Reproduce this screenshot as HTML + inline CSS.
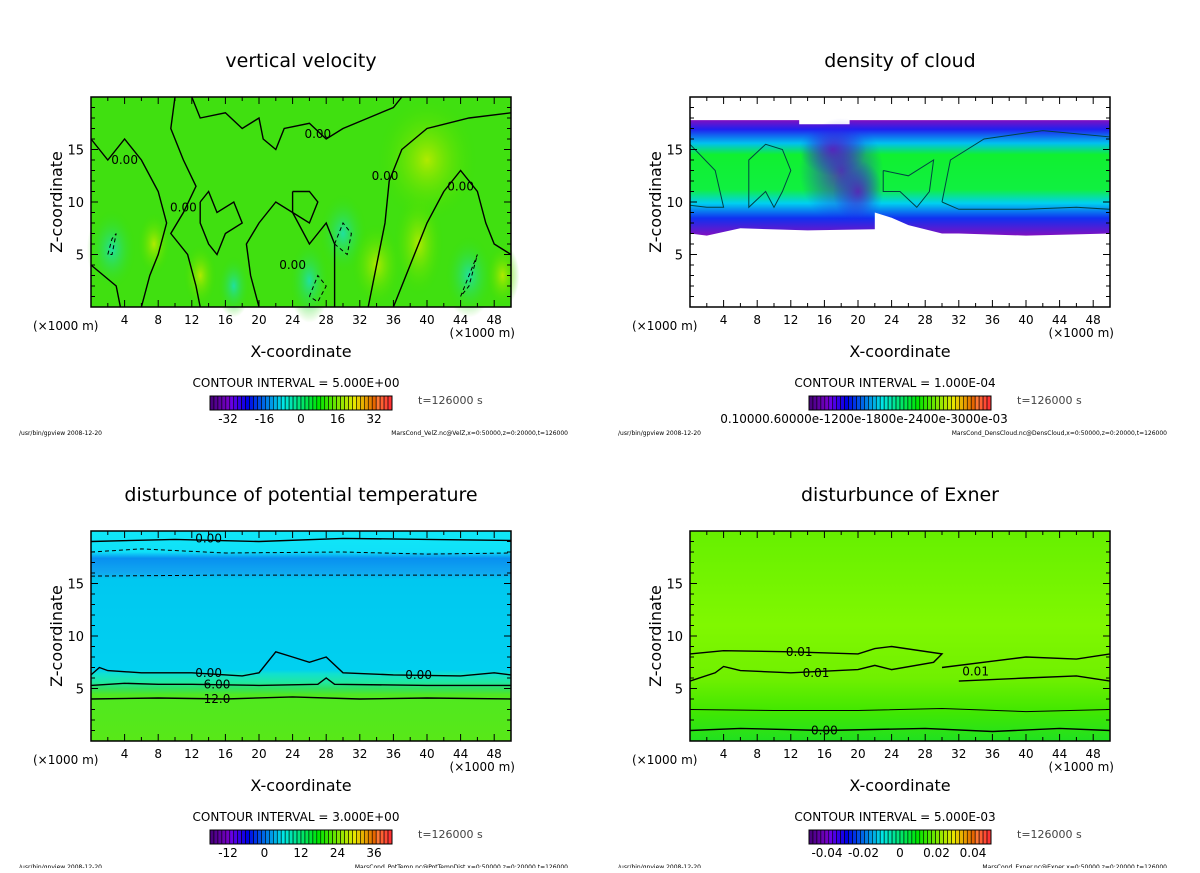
<!DOCTYPE html>
<html><head><meta charset="utf-8"><style>
body{margin:0;background:#fff;width:1200px;height:868px;overflow:hidden;font-family:"Liberation Sans",sans-serif}
svg text{font-family:"DejaVu Sans","Liberation Sans",sans-serif}
</style></head><body>
<svg id="fig" width="1200" height="868" viewBox="0 0 1200 868" xmlns="http://www.w3.org/2000/svg">
<defs>
<radialGradient id="cy" cx="50%" cy="50%" r="50%"><stop offset="0" stop-color="#20e0a0"/><stop offset="1" stop-color="#3ce000" stop-opacity="0"/></radialGradient>
<radialGradient id="yg" cx="50%" cy="50%" r="50%"><stop offset="0" stop-color="#b0ea00"/><stop offset="1" stop-color="#3ce000" stop-opacity="0"/></radialGradient>
<radialGradient id="pu" cx="50%" cy="50%" r="50%"><stop offset="0" stop-color="#6010c0" stop-opacity="0.8"/><stop offset="1" stop-color="#2020f0" stop-opacity="0"/></radialGradient>
<linearGradient id="cloud" x1="0" y1="0" x2="0" y2="1">
<stop offset="0" stop-color="#8010c0"/><stop offset="0.08" stop-color="#2020f0"/><stop offset="0.2" stop-color="#00c0f0"/><stop offset="0.3" stop-color="#10f030"/><stop offset="0.6" stop-color="#10f040"/><stop offset="0.72" stop-color="#00d0f0"/><stop offset="0.85" stop-color="#1030f0"/><stop offset="1" stop-color="#8010c0"/></linearGradient>
<linearGradient id="ptemp" x1="0" y1="0" x2="0" y2="1">
<stop offset="0" stop-color="#10e8f8"/><stop offset="0.1" stop-color="#10e0f8"/><stop offset="0.13" stop-color="#0890f0"/><stop offset="0.2" stop-color="#10a8f0"/><stop offset="0.23" stop-color="#00c8f0"/><stop offset="0.66" stop-color="#00d0f0"/><stop offset="0.68" stop-color="#10e0d0"/><stop offset="0.72" stop-color="#20e8a0"/><stop offset="0.75" stop-color="#30e060"/><stop offset="0.78" stop-color="#50e820"/><stop offset="1" stop-color="#58e818"/></linearGradient>
<linearGradient id="exner" x1="0" y1="0" x2="0" y2="1">
<stop offset="0" stop-color="#66f000"/><stop offset="0.45" stop-color="#80f800"/><stop offset="0.7" stop-color="#70f000"/><stop offset="0.85" stop-color="#44e800"/><stop offset="1" stop-color="#20e020"/></linearGradient>
</defs>
</svg>
<script>
// ---- data ----
const xTicks=[4,8,12,16,20,24,28,32,36,40,44,48];
const zTicks=[5,10,15];
const titles=["vertical velocity","density of cloud","disturbunce of potential temperature","disturbunce of Exner"];
const intervals=["CONTOUR INTERVAL = 5.000E+00","CONTOUR INTERVAL = 1.000E-04","CONTOUR INTERVAL = 3.000E+00","CONTOUR INTERVAL = 5.000E-03"];
const cbLabels1=["-32","-16","0","16","32"];
const cbLabels3=["-12","0","12","24","36"];
const cbLabels4=["-0.04","-0.02","0","0.02","0.04"];
const footers=["MarsCond_VelZ.nc@VelZ,x=0:50000,z=0:20000,t=126000","MarsCond_DensCloud.nc@DensCloud,x=0:50000,z=0:20000,t=126000","MarsCond_PotTemp.nc@PotTempDist,x=0:50000,z=0:20000,t=126000","MarsCond_Exner.nc@Exner,x=0:50000,z=0:20000,t=126000"];
// contour lines [x km, z km]
const vv0a=[[10,20],[9.5,17],[11,14],[12.5,11.5],[11,9],[9.5,7],[11.5,5],[12.5,2],[13,0]];
const vv0b=[[33,0],[34,4],[35,8],[35.5,12],[37,15],[40,17],[45,18],[50,18.5]];
const vv0c=[[36,0],[38,4],[40,8],[42,11],[44,13],[46,11],[47,8],[48,6],[50,5]];
const vv0d=[[20,0],[19,3],[18.5,6],[20,8],[22,10],[24,9],[26,6],[28,8],[29,6],[29,3],[29,0]];
const vv0e=[[0,16],[2,14],[4,16],[6,14],[8,11],[9,8],[8,5],[7,3],[6,0]];
const vv0f=[[0,4],[3,2],[3.5,0]];
const vv0g=[[12,20],[13,18],[16,18.5],[18,17],[20,18],[20.5,16],[22,15],[23,17],[26,17.5],[28,16],[30,17],[33,18],[36,19],[37,20]];
const vv0h=[[13,10],[14,11],[15,9],[17,10],[18,8],[16,7],[15,5],[14,6],[13,8],[13,10]];
const vv0i=[[24,11],[24,9],[26,8],[27,10],[26,11],[24,11]];
const vvDash=[[2,5],[2.5,6.5],[3,7],[2.5,5],[2,5]];
const vvDash2=[[44,1],[45,3],[46,5],[45,2],[44,1]];
const vvDash3=[[26,1],[27,3],[28,2],[27,0.5],[26,1]];
const vvDash4=[[29,6],[30,8],[31,7],[30.5,5],[29,6]];
const cloudTop=[[0,17.8],[13,17.8],[13,17.4],[19,17.4],[19,17.8],[50,17.8]];
const cloudBot=[[0,7],[2,6.8],[6,7.5],[14,7.3],[22,7.4],[22,9],[24,8.5],[26,7.8],[30,7],[32,7],[40,6.8],[50,7]];
const cloudC1=[[0,15.5],[3,13],[4,9.5],[2,9.5],[0,9.7]];
const cloudC2=[[7,11],[7,14],[9,15.5],[11,15],[12,13],[11,11],[10,9.5],[9,11],[7,9.5],[7,11]];
const cloudC3=[[23,13],[26,12.5],[29,14],[28.5,11],[27,9.5],[25,11],[23,11],[23,13]];
const cloudC4=[[30,10],[31,14],[35,16],[42,16.8],[50,16.2],[50,9.3],[46,9.5],[40,9.3],[32,9.3],[30,10]];
const pt0a=[[0,6.3],[1,7],[2,6.7],[6,6.5],[12,6.5],[18,6.2],[20,6.5],[22,8.5],[24,8],[26,7.5],[28,8],[30,6.5],[36,6.3],[44,6.2],[48,6.5],[50,6.3]];
const pt6=[[0,5.3],[4,5.5],[8,5.4],[12,5.4],[20,5.3],[27,5.4],[28,6],[29,5.4],[40,5.3],[50,5.3]];
const pt12=[[0,4],[8,4.1],[16,4],[24,4.2],[32,4],[40,4.1],[50,4]];
const ptTop=[[0,19],[10,19.2],[20,19],[30,19.3],[40,19.2],[50,19.1]];
const ptD1=[[0,18],[6,18.3],[16,17.9],[30,18],[40,17.8],[50,17.9]];
const ptD2=[[0,15.7],[16,15.8],[34,15.8],[50,15.8]];
const ex1a=[[0,8.3],[4,8.6],[12,8.5],[20,8.3],[22,8.8],[24,9],[30,8.3],[29,7.5],[24,6.8],[22,7.2],[20,6.8],[12,6.5],[6,6.7],[4,7.1],[3,6.5],[0,5.7]];
const ex1b=[[30,7],[36,7.6],[40,8],[46,7.8],[50,8.3]];
const ex1c=[[32,5.7],[40,6],[46,6.2],[50,5.7]];
const ex2=[[0,3],[10,2.9],[20,2.9],[30,3.1],[40,2.8],[50,3]];
const ex0=[[0,1],[6,1.2],[16,1],[28,1.2],[36,0.9],[44,1.2],[50,1]];

const NS="http://www.w3.org/2000/svg";
const svg=document.getElementById('fig');
function mk(tag,attrs,parent,txt){const e=document.createElementNS(NS,tag);for(const k in attrs)e.setAttribute(k,attrs[k]);if(txt!==undefined)e.textContent=txt;(parent||svg).appendChild(e);return e;}
const W=420,H=210;
function panel(idx,ox,oy){
  const g=mk('g',{});
  
  
  const X=v=>ox+v/50*W, Z=v=>oy+H-v/20*H;
  return {g,X,Z,ox,oy};
}
function line(p,pts,opts){
  const d=pts.map((q,i)=>(i?'L':'M')+p.X(q[0]).toFixed(1)+','+p.Z(q[1]).toFixed(1)).join('');
  const e=mk('path',{d:d,fill:opts.fill||'none',stroke:opts.stroke||'#000','stroke-width':opts.w||1.4,'stroke-dasharray':opts.dash||'none'},p.g);
  
  
  return e;
}
function lbl(p,x,z,t,name){const e=mk('text',{x:p.X(x),y:p.Z(z)+4,'font-size':12,'text-anchor':'middle',fill:'#000'},p.g,t);
  }
function frame(p,idx,cbl){
  const g=p.g,ox=p.ox,oy=p.oy;
  const fr=mk('rect',{x:ox,y:oy,width:W,height:H,fill:'none',stroke:'#000','stroke-width':1.5},g);
  
  for(let v=2;v<50;v+=2){const l=v%4===0?7:4;mk('line',{x1:p.X(v),y1:oy+H,x2:p.X(v),y2:oy+H-l,stroke:'#000'},g);mk('line',{x1:p.X(v),y1:oy,x2:p.X(v),y2:oy+l,stroke:'#000'},g);}
  for(let v=1;v<20;v++){const l=v%5===0?7:4;mk('line',{x1:ox,y1:p.Z(v),x2:ox+l,y2:p.Z(v),stroke:'#000'},g);mk('line',{x1:ox+W,y1:p.Z(v),x2:ox+W-l,y2:p.Z(v),stroke:'#000'},g);}
  xTicks.forEach(v=>{const t=mk('text',{x:p.X(v),y:oy+H+17,'font-size':12,'text-anchor':'middle'},g,String(v));});
  zTicks.forEach(v=>{const t=mk('text',{x:ox-7,y:p.Z(v)+5,'font-size':13,'text-anchor':'end'},g,String(v));});
  let t=mk('text',{x:ox-58,y:oy+H+23,'font-size':12},g,'(×1000 m)');
  t=mk('text',{x:ox+W+4,y:oy+H+30,'font-size':12,'text-anchor':'end'},g,'(×1000 m)');
  t=mk('text',{x:ox+W/2,y:oy+H+50,'font-size':16,'text-anchor':'middle'},g,'X-coordinate');
  t=mk('text',{x:0,y:0,'font-size':16,'text-anchor':'middle',transform:`translate(${ox-29},${oy+H/2}) rotate(-90)`},g,'Z-coordinate');
  t=mk('text',{x:ox+W/2,y:oy-30,'font-size':19,'text-anchor':'middle'},g,titles[idx]);
  t=mk('text',{x:ox+205,y:oy+290,'font-size':12,'text-anchor':'middle'},g,intervals[idx]);
  const cb=mk('g',{},g);
  const cx=ox+119,cw=182,n=46;
  for(let i=0;i<n;i++){const f=i/(n-1);let h,s=100,l=45;
    if(f<0.1){h=275;l=25+f*150}else h=270-(f-0.1)/0.9*270*1.0;
    if(f>0.93)l=60;
    mk('rect',{x:cx+i*cw/n,y:oy+299,width:cw/n,height:14,fill:`hsl(${h},${s}%,${l}%)`,stroke:'#000','stroke-width':0.6},cb);}
  mk('rect',{x:cx,y:oy+299,width:cw,height:14,fill:'none',stroke:'#000'},cb);
  if(cbl){cbl.forEach((s,i)=>{const tt=mk('text',{x:cx+18+i*36.5,y:oy+326,'font-size':12,'text-anchor':'middle'},cb,s);});}
  else{const tt=mk('text',{x:cx+55,y:oy+326,'font-size':12,'text-anchor':'middle'},cb,'0.10000.60000e-1200e-1800e-2400e-3000e-03');}
  t=mk('text',{x:ox+327,y:oy+307,'font-size':11,fill:'#444'},g,'t=126000 s');
  t=mk('text',{x:ox-72,y:oy+338,'font-size':6},g,'/usr/bin/gpview  2008-12-20');
  t=mk('text',{x:ox+477,y:oy+338,'font-size':6,'text-anchor':'end'},g,footers[idx]);
}
// Panel 1
let p=panel(0,91,97);
mk('rect',{x:p.ox,y:p.oy,width:W,height:H,fill:'#40e010'},p.g);
[[2.5,5.5,3,4,'cy'],[13,3,2,3,'yg'],[17,2,2,3,'cy'],[26,2.5,2.5,4,'cy'],[30,7,3,4,'cy'],[34,4,3,4,'yg'],[39,6,3,5,'yg'],[45,3,3,4,'cy'],[49,3,2,3,'yg'],[7.5,6,2,3,'yg'],[40,14,6,6,'yg']].forEach(e=>mk('ellipse',{cx:p.X(e[0]),cy:p.Z(e[1]),rx:e[2]/50*W,ry:e[3]/20*H,fill:`url(#${e[4]})`},p.g));
[vv0a,vv0b,vv0c,vv0d,vv0e,vv0f,vv0g,vv0h,vv0i].forEach(l=>line(p,l,{}));
[vvDash,vvDash2,vvDash3,vvDash4].forEach(l=>line(p,l,{dash:'4 3',w:1}));
lbl(p,27,16.5,'0.00');lbl(p,4,14,'0.00');lbl(p,35,12.5,'0.00');lbl(p,44,11.5,'0.00');lbl(p,11,9.5,'0.00');lbl(p,24,4,'0.00');
frame(p,0,cbLabels1);
// Panel 2
p=panel(1,690,97);
line(p,cloudTop.concat(cloudBot.slice().reverse()),{fill:'url(#cloud)',stroke:'none',name:'cloud-region'});
[[18,13,5,5],[20,11,3,3],[17,15,4,2.5]].forEach(e=>mk('ellipse',{cx:p.X(e[0]),cy:p.Z(e[1]),rx:e[2]/50*W,ry:e[3]/20*H,fill:'url(#pu)'},p.g));
[cloudC1,cloudC2,cloudC3,cloudC4].forEach(l=>line(p,l,{w:1,stroke:'#044'}));
frame(p,1,null);
// Panel 3
p=panel(2,91,531);
mk('rect',{x:p.ox,y:p.oy,width:W,height:H,fill:'url(#ptemp)'},p.g);
[pt0a,pt6,pt12,ptTop].forEach(l=>line(p,l,{}));
[ptD1,ptD2].forEach(l=>line(p,l,{dash:'4 3',w:1}));
lbl(p,14,6.5,'0.00');lbl(p,39,6.3,'0.00');lbl(p,15,5.4,'6.00');lbl(p,15,4,'12.0');lbl(p,14,19.3,'0.00');
frame(p,2,cbLabels3);
// Panel 4
p=panel(3,690,531);
mk('rect',{x:p.ox,y:p.oy,width:W,height:H,fill:'url(#exner)'},p.g);
[ex1a,ex1b,ex1c,ex0].forEach(l=>line(p,l,{}));
line(p,ex2,{w:1});
lbl(p,13,8.5,'0.01');lbl(p,15,6.5,'0.01');lbl(p,34,6.6,'0.01');lbl(p,16,1,'0.00');
frame(p,3,cbLabels4);
</script>
</body></html>
